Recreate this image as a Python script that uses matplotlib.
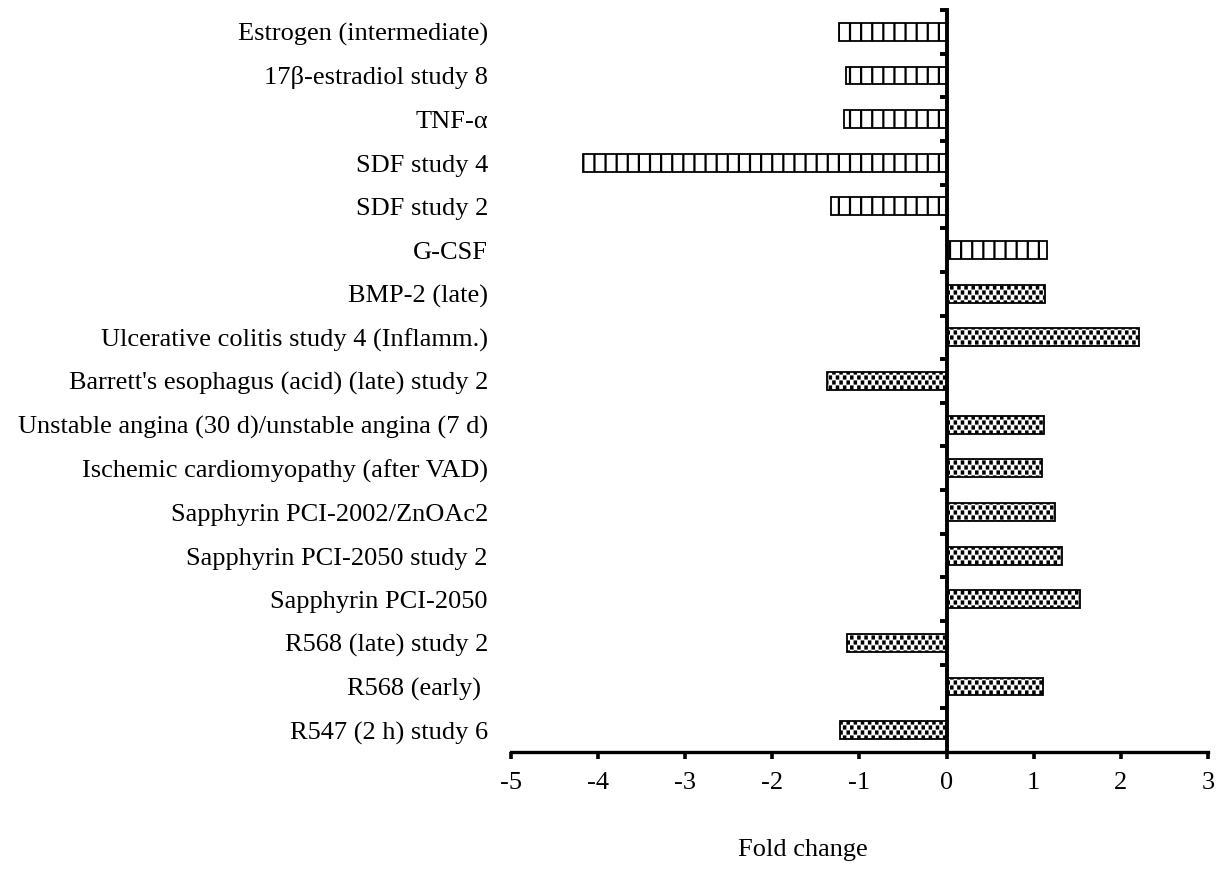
import numpy as np
import matplotlib
matplotlib.use("Agg")
import matplotlib.pyplot as plt
from matplotlib import hatch as mhatch
from matplotlib.path import Path
from matplotlib.transforms import blended_transform_factory, offset_copy

categories = [
    "Estrogen (intermediate)",
    "17\u03b2-estradiol study 8",
    "TNF-\u03b1",
    "SDF study 4",
    "SDF study 2",
    "G-CSF",
    "BMP-2 (late)",
    "Ulcerative colitis study 4 (Inflamm.)",
    "Barrett's esophagus (acid) (late) study 2",
    "Unstable angina (30 d)/unstable angina (7 d)",
    "Ischemic cardiomyopathy (after VAD)",
    "Sapphyrin PCI-2002/ZnOAc2",
    "Sapphyrin PCI-2050 study 2",
    "Sapphyrin PCI-2050",
    "R568 (late) study 2",
    "R568 (early) ",
    "R547 (2 h) study 6",
]
fold_change = [-1.23, -1.16, -1.18, -4.17, -1.33, 1.15, 1.13, 2.21, -1.37,
               1.12, 1.10, 1.24, 1.32, 1.53, -1.14, 1.11, -1.22]
# group: 0 = striped, 1 = checkered
group = [0, 0, 0, 0, 0, 0, 1, 1, 1, 1, 1, 1, 1, 1, 1, 1, 1]
xticks = [-5, -4, -3, -2, -1, 0, 1, 2, 3]
xlabel = "Fold change"


class VerticalStripes(mhatch.HatchPatternBase):
    """Evenly spaced vertical lines, 9 per hatch tile."""
    def __init__(self, hatch, density):
        self.num_lines = 9 * hatch.count('|')
        self.num_vertices = self.num_lines * 2

    def set_vertices_and_codes(self, vertices, codes):
        xs = (np.arange(self.num_lines) + 0.5) / self.num_lines
        vertices[0::2, 0] = xs
        vertices[0::2, 1] = 0.0
        vertices[1::2, 0] = xs
        vertices[1::2, 1] = 1.0
        codes[0::2] = Path.MOVETO
        codes[1::2] = Path.LINETO


class Checkerboard(mhatch.HatchPatternBase):
    """Small filled squares laid out as a checkerboard."""
    ncols = 28
    nrows = 20
    w = 0.013
    h = 0.02

    def __init__(self, hatch, density):
        n = hatch.count('.')
        if n:
            self.cells = [(c, r) for r in range(self.nrows)
                          for c in range(self.ncols) if (r + c) % 2 == 0]
        else:
            self.cells = []
        self.num_vertices = len(self.cells) * 5

    def set_vertices_and_codes(self, vertices, codes):
        cw = 1.0 / self.ncols
        ch = 1.0 / self.nrows
        i = 0
        for c, r in self.cells:
            cx = (c + 0.5) * cw
            cy = (r + 0.5) * ch
            x0, x1 = cx - self.w / 2, cx + self.w / 2
            y0, y1 = cy - self.h / 2, cy + self.h / 2
            vertices[i:i + 5] = [(x0, y0), (x1, y0), (x1, y1), (x0, y1), (x0, y0)]
            codes[i:i + 5] = [Path.MOVETO, Path.LINETO, Path.LINETO,
                              Path.LINETO, Path.CLOSEPOLY]
            i += 5


mhatch._hatch_types = [VerticalStripes, Checkerboard]

plt.rcParams['font.family'] = ['Liberation Serif', 'DejaVu Serif']
plt.rcParams['hatch.linewidth'] = 1.6
plt.rcParams['hatch.color'] = 'black'

FS = 19

fig = plt.figure(figsize=(12.19, 8.69), dpi=100)
ax = fig.add_axes([511 / 1219, 1 - 752 / 869, 697 / 1219, 742 / 869])

y = np.arange(len(categories))
hatches = ['|' if g == 0 else '.' for g in group]
for yi, v, h in zip(y, fold_change, hatches):
    ax.barh(yi, v, height=0.41, left=0, color='white', edgecolor='black',
            linewidth=1.3, hatch=h, zorder=2)

ax.set_xlim(-5, 3)
ax.set_ylim(len(categories) - 0.5, -0.5)

for s in ['top', 'right']:
    ax.spines[s].set_visible(False)
ax.spines['left'].set_position(('data', 0))
ax.spines['left'].set_linewidth(2.8)
ax.spines['left'].set_zorder(3)
ax.spines['bottom'].set_linewidth(2.4)

ax.set_yticks(np.arange(-0.5, len(categories) - 0.5, 1.0))
ax.set_yticklabels([])
ax.tick_params(axis='y', direction='out', length=5, width=2.8, color='black')

ax.set_xticks(xticks)
ax.set_xticklabels([str(t) for t in xticks])
ax.tick_params(axis='x', direction='out', length=5, width=2.6, pad=9.5,
               labelsize=FS)

# category names sit left of the plot area, baseline a little below bar centre
trans = blended_transform_factory(ax.transAxes, ax.transData)
trans = offset_copy(trans, fig=fig, x=0, y=-9, units='dots')
for yi, lab in zip(y, categories):
    ax.text(-23 / 697, yi, lab, transform=trans, ha='right', va='baseline',
            fontsize=FS)

ax.set_xlabel(xlabel, fontsize=FS)
ax.xaxis.set_label_coords((803 - 511) / 697, -(839 - 752) / 742)

fig.savefig("out.png", dpi=100, facecolor='white')
